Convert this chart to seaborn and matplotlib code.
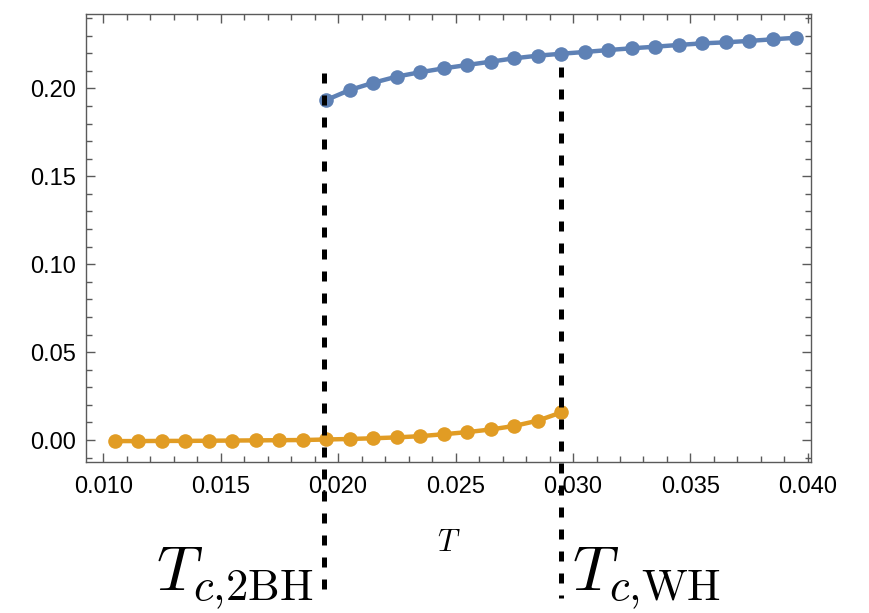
import matplotlib
matplotlib.use("Agg")
import matplotlib.pyplot as plt
import matplotlib.transforms as mtransforms
from matplotlib.ticker import MultipleLocator, FormatStrFormatter
import pandas as pd
import seaborn as sns

# Upper branch (blue)
T_upper = [0.0195, 0.0205, 0.0215, 0.0225, 0.0235, 0.0245, 0.0255, 0.0265,
           0.0275, 0.0285, 0.0295, 0.0305, 0.0315, 0.0325, 0.0335, 0.0345,
           0.0355, 0.0365, 0.0375, 0.0385, 0.0395]
v_upper = [0.1934, 0.1991, 0.2032, 0.2067, 0.2092, 0.2114, 0.2133, 0.2152,
           0.2171, 0.2186, 0.2197, 0.2207, 0.2218, 0.2228, 0.2237, 0.2247,
           0.2256, 0.2262, 0.2270, 0.2279, 0.2288]

# Lower branch (orange)
T_lower = [0.0105, 0.0115, 0.0125, 0.0135, 0.0145, 0.0155, 0.0165, 0.0175,
           0.0185, 0.0195, 0.0205, 0.0215, 0.0225, 0.0235, 0.0245, 0.0255,
           0.0265, 0.0275, 0.0285, 0.0295]
v_lower = [-0.0006, -0.0006, -0.0005, -0.0005, -0.0004, -0.0003, -0.0002,
           -0.0001, 0.0000, 0.0003, 0.0006, 0.0010, 0.0015, 0.0022, 0.0033,
           0.0045, 0.0060, 0.0080, 0.0110, 0.0157]

# Critical temperatures
Tc_values = [0.0194, 0.0295]
Tc_labels = [r"$T_{c{,}\mathrm{2BH}}$", r"$T_{c{,}\mathrm{WH}}$"]
Tc_tops = [0.209, 0.212]

x_ticks = [0.010, 0.015, 0.020, 0.025, 0.030, 0.035, 0.040]
y_ticks = [0.00, 0.05, 0.10, 0.15, 0.20]

BLUE = "#5E81B5"
ORANGE = "#E19C24"
FRAME = "#5a5a5a"

sns.set_theme(style="ticks")
plt.rcParams["font.family"] = ["Liberation Sans", "DejaVu Sans"]
plt.rcParams["mathtext.fontset"] = "cm"
plt.rcParams["text.color"] = "black"
plt.rcParams["axes.labelcolor"] = "black"

fig = plt.figure(figsize=(8.7, 6.13), dpi=100)
ax = fig.add_axes([86 / 870, 1 - 462 / 613, (811 - 86) / 870, (462 - 14) / 613])

df_up = pd.DataFrame({"T": T_upper, "v": v_upper})
df_lo = pd.DataFrame({"T": T_lower, "v": v_lower})

for df, c in [(df_up, BLUE), (df_lo, ORANGE)]:
    sns.lineplot(data=df, x="T", y="v", ax=ax, color=c, linewidth=3.2,
                 marker="o", markersize=10.5, markeredgewidth=0,
                 markeredgecolor=c, zorder=3)

for Tc, top in zip(Tc_values, Tc_tops):
    ax.plot([Tc, Tc], [top, -0.09], color="black", linewidth=3.6,
            dashes=[2.0, 2.4], clip_on=False, zorder=4)

ax.set_xlim(0.00927, 0.04013)
ax.set_ylim(-0.0125, 0.2423)
ax.set_xticks(x_ticks)
ax.set_yticks(y_ticks)
ax.xaxis.set_major_formatter(FormatStrFormatter("%.3f"))
ax.yaxis.set_major_formatter(FormatStrFormatter("%.2f"))
ax.xaxis.set_minor_locator(MultipleLocator(0.001))
ax.yaxis.set_minor_locator(MultipleLocator(0.01))

ax.tick_params(which="both", direction="in", top=True, right=True,
               color=FRAME, width=1.0, labelsize=17, labelcolor="black")
ax.tick_params(which="major", length=6.5)
ax.tick_params(which="minor", length=4.0)
ax.tick_params(axis="x", which="major", pad=10)
ax.tick_params(axis="y", which="major", pad=7)
for s in ax.spines.values():
    s.set_color(FRAME)
    s.set_linewidth(1.0)

ax.set_xlabel(r"$T$", fontsize=22, labelpad=22, color="black")
ax.set_ylabel("")

# Critical temperature labels below the frame
trans = mtransforms.blended_transform_factory(ax.transData, fig.transFigure)
ax.text(Tc_values[0] - 0.00045, 1 - 590 / 613, Tc_labels[0], transform=trans,
        ha="right", va="baseline", fontsize=46, color="black")
ax.text(Tc_values[1] + 0.00045, 1 - 590 / 613, Tc_labels[1], transform=trans,
        ha="left", va="baseline", fontsize=46, color="black")

fig.savefig("out.png", dpi=100)
